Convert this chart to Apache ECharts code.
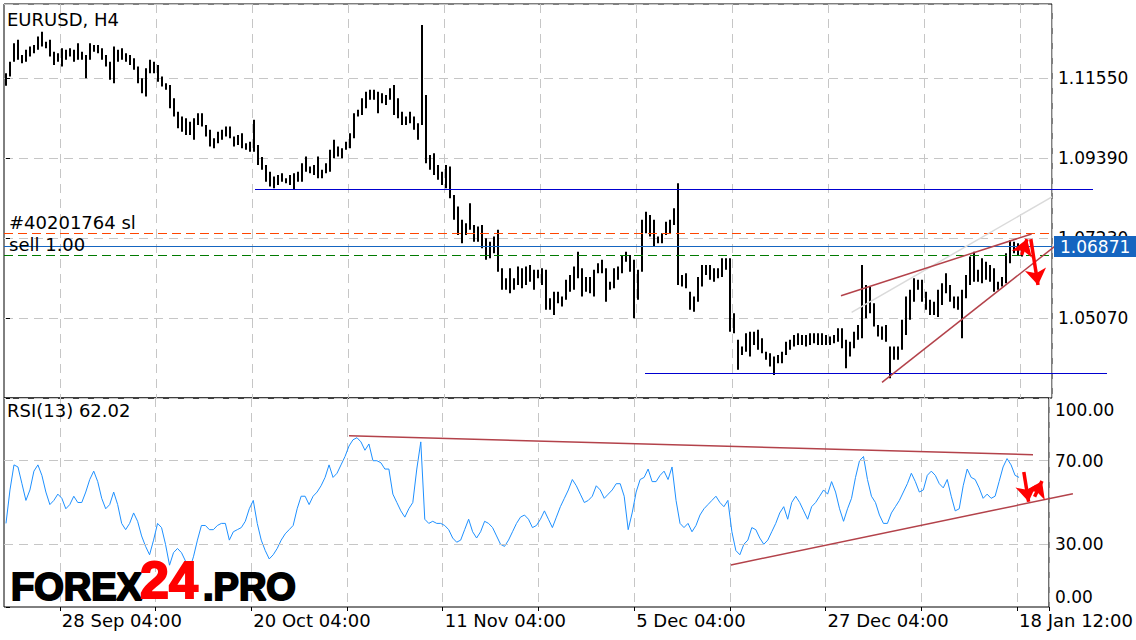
<!DOCTYPE html>
<html><head><meta charset="utf-8">
<script src="https://cdn.jsdelivr.net/npm/echarts@6/dist/echarts.min.js"></script>
<style>html,body{margin:0;padding:0;background:#fff}#c{width:1136px;height:640px}</style>
</head><body><div id="c"></div>
<script>
// ---- data (bar index k = one 8-hour slot, prices) ----
const highs = [
1.1168,1.1199,1.1249,1.1258,1.1217,1.1231,1.1240,1.1244,1.1267,1.1280,
1.1253,1.1258,1.1226,1.1222,1.1235,1.1231,1.1235,1.1231,1.1249,1.1226,
1.1217,1.1249,1.1244,1.1244,1.1235,1.1217,1.1199,1.1240,1.1231,1.1235,
1.1222,1.1217,1.1208,1.1186,1.1154,1.1181,1.1204,1.1199,1.1190,1.1159,
1.1141,1.1136,1.1100,1.1064,1.1051,1.1046,1.1037,1.1046,1.1060,1.1060,
1.1028,1.1015,1.0992,1.1010,1.1015,1.1024,1.1024,1.0997,1.1001,1.1006,
1.0979,1.0983,1.1042,1.0974,1.0942,1.0920,1.0902,1.0889,1.0893,1.0898,
1.0884,1.0893,1.0898,1.0902,1.0925,1.0943,1.0916,1.0920,1.0943,1.0907,
1.0925,1.0961,1.0988,1.0970,1.0965,1.0983,1.1006,1.1060,1.1069,1.1100,
1.1118,1.1123,1.1123,1.1118,1.1114,1.1109,1.1127,1.1136,1.1100,1.1064,
1.1051,1.1064,1.1051,1.1033,1.1298,1.1109,1.0947,1.0952,1.0920,1.0902,
1.0920,1.0916,1.0839,1.0808,1.0772,1.0763,1.0817,1.0758,1.0754,1.0758,
1.0722,1.0713,1.0727,1.0745,1.0641,1.0614,1.0641,1.0614,1.0646,1.0641,
1.0646,1.0650,1.0637,1.0637,1.0641,1.0637,1.0560,1.0578,1.0578,1.0565,
1.0610,1.0623,1.0646,1.0686,1.0641,1.0618,1.0618,1.0637,1.0655,1.0664,
1.0641,1.0605,1.0641,1.0646,1.0677,1.0686,1.0677,1.0664,1.0637,1.0772,
1.0794,1.0785,1.0772,1.0727,1.0736,1.0767,1.0772,1.0803,1.0871,1.0623,
1.0628,1.0578,1.0565,1.0618,1.0650,1.0650,1.0650,1.0641,1.0641,1.0668,
1.0668,1.0668,1.0520,1.0448,1.0430,1.0466,1.0470,1.0470,1.0475,1.0452,
1.0416,1.0412,1.0403,1.0407,1.0416,1.0443,1.0448,1.0461,1.0466,1.0461,
1.0461,1.0466,1.0466,1.0466,1.0466,1.0461,1.0457,1.0461,1.0479,1.0479,
1.0448,1.0443,1.0470,1.0488,1.0650,1.0596,1.0592,1.0547,1.0488,1.0484,
1.0488,1.0430,1.0430,1.0430,1.0502,1.0565,1.0583,1.0614,1.0610,1.0610,
1.0578,1.0556,1.0551,1.0583,1.0601,1.0628,1.0596,1.0565,1.0565,1.0583,
1.0623,1.0673,1.0686,1.0637,1.0668,1.0659,1.0650,1.0641,1.0605,1.0618,
1.0682,1.0717,1.0713,1.0709,1.0700];
const lows = [
1.1134,1.1159,1.1199,1.1204,1.1195,1.1199,1.1213,1.1222,1.1231,1.1240,
1.1235,1.1213,1.1190,1.1199,1.1186,1.1204,1.1213,1.1199,1.1204,1.1204,
1.1154,1.1204,1.1226,1.1222,1.1204,1.1186,1.1150,1.1141,1.1199,1.1204,
1.1199,1.1190,1.1177,1.1141,1.1114,1.1105,1.1168,1.1168,1.1145,1.1132,
1.1123,1.1073,1.1051,1.1019,1.1010,1.1001,1.1001,1.0988,1.1028,1.1024,
1.0997,1.0970,1.0965,1.0979,1.0988,1.0997,1.0992,1.0970,1.0974,1.0965,
1.0961,1.0956,1.0956,1.0920,1.0907,1.0875,1.0862,1.0857,1.0866,1.0875,
1.0871,1.0866,1.0853,1.0875,1.0875,1.0902,1.0898,1.0893,1.0884,1.0884,
1.0898,1.0902,1.0938,1.0943,1.0938,1.0961,1.0965,1.0992,1.1051,1.1055,
1.1073,1.1096,1.1096,1.1060,1.1087,1.1082,1.1096,1.1055,1.1046,1.1028,
1.1028,1.1033,1.1015,1.0988,1.1028,1.0925,1.0907,1.0893,1.0880,1.0866,
1.0857,1.0830,1.0772,1.0731,1.0709,1.0731,1.0745,1.0713,1.0713,1.0695,
1.0664,1.0668,1.0682,1.0632,1.0583,1.0583,1.0574,1.0583,1.0596,1.0587,
1.0596,1.0605,1.0583,1.0614,1.0596,1.0529,1.0529,1.0515,1.0547,1.0538,
1.0556,1.0578,1.0583,1.0614,1.0565,1.0578,1.0574,1.0565,1.0628,1.0628,
1.0551,1.0583,1.0587,1.0610,1.0628,1.0659,1.0632,1.0506,1.0556,1.0632,
1.0736,1.0727,1.0700,1.0709,1.0709,1.0731,1.0736,1.0758,1.0596,1.0592,
1.0587,1.0529,1.0524,1.0551,1.0592,1.0623,1.0610,1.0605,1.0614,1.0618,
1.0637,1.0470,1.0466,1.0367,1.0407,1.0416,1.0403,1.0434,1.0421,1.0412,
1.0394,1.0376,1.0353,1.0385,1.0385,1.0407,1.0421,1.0430,1.0434,1.0434,
1.0430,1.0434,1.0439,1.0434,1.0434,1.0434,1.0434,1.0439,1.0443,1.0425,
1.0371,1.0403,1.0425,1.0448,1.0452,1.0506,1.0520,1.0484,1.0457,1.0448,
1.0443,1.0344,1.0394,1.0394,1.0421,1.0461,1.0502,1.0551,1.0583,1.0551,
1.0529,1.0515,1.0515,1.0510,1.0542,1.0574,1.0551,1.0533,1.0529,1.0452,
1.0560,1.0596,1.0605,1.0605,1.0601,1.0610,1.0605,1.0578,1.0583,1.0592,
1.0601,1.0655,1.0682,1.0677,1.0673];
const rsi = [
40,56,68,67,59,51,56,65,68,63,
55,49,51,54,52,47,49,53,50,50,
55,61,65,60,52,47,49,55,49,40,
37,40,45,41,34,29,25,32,40,38,
30,20,26,28,26,22,18,24,32,39,
39,37,37,39,40,40,32,36,37,38,
41,47,51,40,32,27,23,25,28,32,
35,37,39,47,53,53,49,53,55,58,
62,68,62,64,68,72,77,80,81,79,
75,78,70,70,69,66,66,54,50,46,
43,47,50,66,79,42,40,41,40,40,
39,37,33,31,32,37,42,36,33,36,
41,40,38,34,30,29,32,36,40,43,
44,42,38,39,42,46,42,38,43,48,
52,56,61,58,54,50,51,53,58,56,
52,54,56,59,59,53,37,45,55,61,
62,66,60,60,63,65,61,67,51,40,
38,40,36,39,44,47,49,51,53,50,
48,51,36,27,25,30,32,38,37,33,
30,32,36,40,45,48,42,50,53,50,
46,42,48,50,53,56,54,60,55,47,
41,47,52,62,70,72,61,53,50,44,
40,40,45,48,51,55,59,64,60,55,
56,63,65,63,59,57,61,53,46,47,
58,66,62,61,57,52,54,52,53,60,
67,71,68,63,62];
const tickLabels = ['28 Sep 04:00','20 Oct 04:00','11 Nov 04:00','5 Dec 04:00','27 Dec 04:00','18 Jan 12:00'];
const rsiTicks = [0, 30, 70, 100];
const lastPrice = 1.06871;
const slPrice = 1.07365;
const entryPrice = 1.06771;
const rsiLast = 62.02;
const symbolTitle = 'EURUSD, H4';
const slText = '#40201764 sl';
const orderText = 'sell 1.00';
// annotation segments: [[barIndex, value], [barIndex, value]]
const supportLines = [[[62.25,1.0855],[271.75,1.0855]], [[159.75,1.0359],[275.25,1.0359]]];
const channelLines = [[[208.75,1.0567],[256.4,1.0734]], [[219,1.0333],[264.25,1.0718]]];
const guideLines = [[[211.4,1.0522],[261.5,1.0834]]];
const priceArrows = [[[253.9,1.0677],[255.25,1.0720]], [[256.2,1.0720],[258,1.0596]]];
const rsiLines = [[[86,81.9],[257.5,72.9]], [[181.75,20.1],[267.5,54.2]]];
const rsiArrows = [[[255.2,64.6],[256.4,50.4]], [[257.9,52.8],[259.75,60.3]]];
const nCats = 262;

// ---- chart ----
const FONT = 'DejaVu Sans';
const categories = Array.from({length: nCats}, (_, i) => String(i));
const bars = highs.map((h, i) => [i, h, lows[i]]);
const gridDash = {color: '#c6c6c6', type: [9, 6], width: 1};
const splitEvery = i => i >= 14 && (i - 14) % 24 === 0;
const labelEvery = i => i >= 14 && (i - 14) % 48 === 0;
const fullWidth = p => [[[-0.5, p], [nCats - 0.5, p]]];

function segs(list, xi, yi, style, extra) {
  return Object.assign({
    type: 'lines', coordinateSystem: 'cartesian2d', xAxisIndex: xi, yAxisIndex: yi,
    polyline: false, clip: false, silent: true, z: 5,
    lineStyle: Object.assign({opacity: 1, curveness: 0}, style),
    data: list.map(c => ({coords: c}))
  }, extra || {});
}
function txt(x, y, text, size, color, weight, family, stroke) {
  const st = {text: text, fontSize: size, fontFamily: family || FONT, fontWeight: weight || 'normal',
      fill: color || '#000', align: 'left', verticalAlign: 'middle', textAlign: 'left', textVerticalAlign: 'middle'};
  if (stroke) { st.stroke = color; st.lineWidth = stroke; }
  return {type: 'text', x: x, y: y, silent: true, z: 100, style: st};
}

const chart = echarts.init(document.getElementById('c'), null, {renderer: 'svg', width: 1136, height: 640});
const arrowExtra = {symbol: ['none', 'arrow'], symbolSize: 16};
chart.setOption({
  animation: false,
  backgroundColor: '#fff',
  grid: [
    {left: 4, top: 4, width: 1048, height: 394, show: true, borderColor: '#000', borderWidth: 1},
    {left: 4, top: 398, width: 1048, height: 209, show: true, borderColor: '#000', borderWidth: 1}
  ],
  xAxis: [
    {type: 'category', gridIndex: 0, data: categories, boundaryGap: true,
      axisLine: {show: false}, axisTick: {show: false}, axisLabel: {show: false},
      splitLine: {show: true, interval: splitEvery, lineStyle: gridDash}},
    {type: 'category', gridIndex: 1, data: categories, boundaryGap: true, position: 'bottom',
      axisLine: {show: false},
      axisTick: {show: true, interval: splitEvery, length: 4, lineStyle: {color: '#000'}},
      axisLabel: {interval: labelEvery, align: 'left', margin: 4, color: '#000', fontSize: 18, fontFamily: FONT,
        formatter: v => tickLabels[(Number(v) - 14) / 48] || ''},
      splitLine: {show: true, interval: splitEvery, lineStyle: gridDash}},
    {type: 'value', gridIndex: 0, min: -0.5, max: nCats - 0.5, show: false},
    {type: 'value', gridIndex: 1, min: -0.5, max: nCats - 0.5, show: false}
  ],
  yAxis: [
    {type: 'value', gridIndex: 0, position: 'right', min: 1.0291, max: 1.13548, interval: 0.0216,
      axisLine: {show: false}, axisTick: {show: true, length: 4, lineStyle: {color: '#000'}},
      axisLabel: {color: '#000', fontSize: 17, fontFamily: FONT, margin: 6, showMinLabel: false, showMaxLabel: false,
        formatter: v => v.toFixed(5)},
      splitLine: {show: true, lineStyle: gridDash}},
    {type: 'value', gridIndex: 1, position: 'right', min: 0, max: 100, interval: 10,
      axisLine: {show: false},
      axisTick: {show: true, length: 4, customValues: rsiTicks, lineStyle: {color: '#000'}},
      axisLabel: {customValues: rsiTicks, color: '#000', fontSize: 17, fontFamily: FONT, margin: 6,
        formatter: v => v === 100 ? '{t|' + v.toFixed(2) + '}' : (v === 0 ? '{b|' + v.toFixed(2) + '}' : v.toFixed(2)),
        rich: {
          t: {padding: [24, 0, 0, 0], fontSize: 17, fontFamily: FONT, color: '#000'},
          b: {padding: [0, 0, 20, 0], fontSize: 17, fontFamily: FONT, color: '#000'}
        }},
      splitLine: {show: false}}
  ],
  series: [
    {type: 'custom', name: 'EURUSD', xAxisIndex: 0, yAxisIndex: 0, data: bars, encode: {x: 0, y: [1, 2]},
      renderItem: function (params, api) {
        const k = api.value(0);
        const top = api.coord([k, api.value(1)]);
        const bot = api.coord([k, api.value(2)]);
        return {type: 'rect', shape: {x: Math.round(top[0]) - 1, y: top[1], width: 2, height: Math.max(1, bot[1] - top[1])},
          style: {fill: '#000'}};
      },
      markLine: {silent: true, symbol: ['none', 'none'], animation: false,
        lineStyle: {color: '#1565c0', type: 'solid', width: 1},
        label: {show: true, position: 'end', distance: 2, formatter: lastPrice.toFixed(5),
          color: '#fff', backgroundColor: '#1565c0', padding: [2, 6, 2, 6], fontSize: 17, fontFamily: FONT},
        data: [{yAxis: lastPrice}]}},
    {type: 'line', name: 'RSI', xAxisIndex: 1, yAxisIndex: 1, data: rsi, showSymbol: false, symbol: 'none',
      lineStyle: {color: '#1e90ff', width: 1}, z: 3,
      markLine: {silent: true, symbol: ['none', 'none'], label: {show: false}, animation: false,
        lineStyle: {color: '#c6c6c6', type: [9, 6], width: 1},
        data: [{yAxis: 30}, {yAxis: 70}]}},
    segs(fullWidth(slPrice), 2, 0, {color: '#ff4500', width: 1, type: [9, 5]}),
    segs(fullWidth(entryPrice), 2, 0, {color: '#007a00', width: 1, type: [9, 5]}),
    segs(supportLines, 2, 0, {color: '#0000d0', width: 1}),
    segs(guideLines, 2, 0, {color: '#dadada', width: 1.5}),
    segs(channelLines, 2, 0, {color: '#b3424a', width: 1.5}),
    segs(priceArrows, 2, 0, {color: '#ff0000', width: 3.5}, arrowExtra),
    segs(rsiLines, 3, 1, {color: '#b3424a', width: 1.5}),
    segs(rsiArrows, 3, 1, {color: '#ff0000', width: 3.5}, arrowExtra)
  ],
  graphic: [
    txt(7, 19, symbolTitle, 18),
    txt(7, 410, 'RSI(13) ' + rsiLast.toFixed(2), 18),
    txt(9, 222.5, slText, 18),
    txt(9, 244.5, orderText, 18),
    txt(11, 586.8, 'FOREX', 38, '#000', 'bold', 'Liberation Sans', 2),
    txt(140, 580.3, '24', 52, '#ff0000', 'bold', 'Liberation Sans', 2),
    txt(203, 586.8, '.PRO', 38, '#000', 'bold', 'Liberation Sans', 2)
  ]
});
</script>
</body></html>
